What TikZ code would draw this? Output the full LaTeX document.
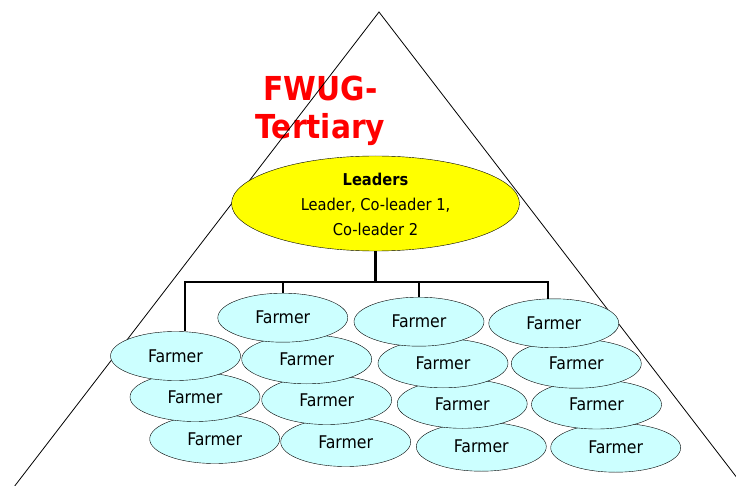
\documentclass[tikz,border=0pt]{standalone}
\usepackage{fontspec}
\setmainfont{DejaVu Sans Condensed}
\usetikzlibrary{shapes.geometric}
\usepackage{xcolor}
\definecolor{leaderfill}{HTML}{FFFF00}
\definecolor{farmerfill}{HTML}{CCFFFF}
\definecolor{titlered}{HTML}{FF0000}

\begin{document}
\begin{tikzpicture}[x=1pt, y=-1pt,
  every node/.style={font=\fontsize{17.5}{20}\selectfont},
  heading/.style={text=titlered, align=center, inner sep=0pt,
                  font=\fontsize{33}{38}\selectfont\bfseries},
  leader/.style={ellipse, draw, fill=leaderfill, minimum width=288pt,
                 minimum height=95pt, inner sep=0pt, align=center,
                 font=\fontsize{16.3}{25}\selectfont},
  farmer/.style={ellipse, draw, fill=farmerfill, minimum width=130pt,
                 minimum height=49pt, inner sep=0pt},
  link/.style={line width=2.5pt},
]
\useasboundingbox (0,0) rectangle (736,486);

\node[heading] (T) at (320.5,110.5) {FWUG-\\Tertiary};

% pyramid
\begin{scope}
  \clip (0,0) rectangle (736,486);
  \draw[line width=0.8pt] (14.7,486) -- (379,12) -- (743.3,486);
\end{scope}

\node[leader] (L) at (375.5,203.5)
  {\rule{0pt}{15pt}\textbf{Leaders}\\Leader, Co-leader 1,\\Co-leader 2};

% lower rows first, so the upper ones lie on top
\foreach \name/\x/\y in {A3/214.7/439, B4/345.7/442, C4/481.3/446.7, D4/615.7/447.7,
                         A2/195/397, B3/326.7/400, C3/462.2/403.8, D3/596.5/404.5,
                         A1/175.5/356, B2/306.7/359.3, C2/443/363.3, D2/576.3/363.7,
                         B1/282.8/317.7, C1/419/321.7, D1/553.8/323.3}
  \node[farmer] (\name) at (\x,\y) {Farmer};

\coordinate (barL) at (185,282);
\coordinate (barR) at (548,282);
\draw[link] (L.south) -- (L.south |- barL);
\draw[link] (barL |- A1.north) -- (barL) -- (barR) -- (barR |- D1.north);
\draw[link] (B1.north) -- (B1.north |- barL);
\draw[link] (C1.north) -- (C1.north |- barL);
\end{tikzpicture}
\end{document}
